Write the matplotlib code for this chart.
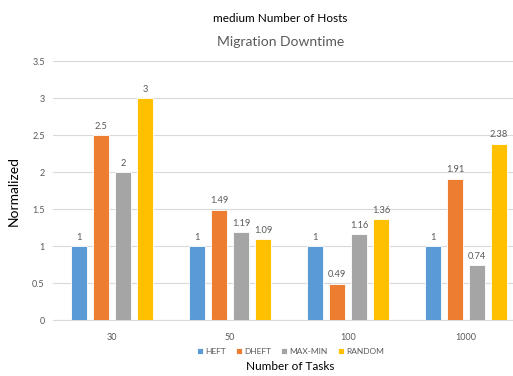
import matplotlib
matplotlib.use("Agg")
import matplotlib.pyplot as plt
import numpy as np

# task counts and normalized downtime for each scheduler
tasks = ["30", "50", "100", "1000"]
heft = [1, 1, 1, 1]
dheft = [2.5, 1.49, 0.49, 1.91]
maxmin = [2, 1.19, 1.16, 0.74]
random_ = [3, 1.09, 1.36, 2.38]

series = [("HEFT", heft, "#5B9BD5"),
          ("DHEFT", dheft, "#ED7D31"),
          ("MAX-MIN", maxmin, "#A5A5A5"),
          ("RANDOM", random_, "#FFC000")]

plt.rcParams['font.family'] = ['Lato', 'DejaVu Sans']

fig = plt.figure(figsize=(5.13, 3.76), dpi=100)
ax = fig.add_axes([0.1033, 0.1489, 0.920, 0.6888])

x = np.arange(len(tasks))
width = 0.135
pitch = 0.1864
for i, (name, vals, col) in enumerate(series):
    pos = x + (i - 1.5) * pitch
    bars = ax.bar(pos, vals, width, color=col, edgecolor="white", linewidth=0.6,
                  label=name, zorder=3)
    for b, v in zip(bars, vals):
        ax.text(b.get_x() + b.get_width() / 2, v + 0.06, f"{v:g}",
                ha="center", va="bottom", fontsize=6.7, color="#595959")

ax.set_xlim(-0.5, len(tasks) - 0.5)
ax.set_ylim(0, 3.5)
ax.set_yticks(np.arange(0, 3.51, 0.5))
ax.set_yticklabels([f"{t:g}" for t in np.arange(0, 3.51, 0.5)])
ax.set_xticks(x)
ax.set_xticklabels(tasks)
ax.tick_params(axis="both", length=0, labelsize=6.5, labelcolor="#595959")
ax.tick_params(axis="x", pad=9)
ax.tick_params(axis="y", pad=6)
ax.grid(axis="y", color="#D9D9D9", linewidth=0.8, zorder=0)
for s in ["top", "right", "left"]:
    ax.spines[s].set_visible(False)
ax.spines["bottom"].set_color("#D9D9D9")

ax.set_ylabel("Normalized", fontsize=10, color="black")
ax.yaxis.set_label_coords(-0.07, 0.5)

fig.text(0.547, 0.952, "medium Number of Hosts", ha="center", va="center",
         fontsize=8.5, color="black")
fig.text(0.547, 0.888, "Migration Downtime", ha="center", va="center",
         fontsize=10, color="#595959")

leg = fig.legend(loc="center", bbox_to_anchor=(0.566, 0.066), ncol=4,
                 frameon=False, fontsize=6, handlelength=0.7, handleheight=0.7,
                 handletextpad=0.3, columnspacing=1.2)
for t in leg.get_texts():
    t.set_color("#595959")
fig.text(0.566, 0.024, "Number of Tasks", ha="center", va="center",
         fontsize=8.5, color="black")

fig.savefig("out.png", dpi=100)
